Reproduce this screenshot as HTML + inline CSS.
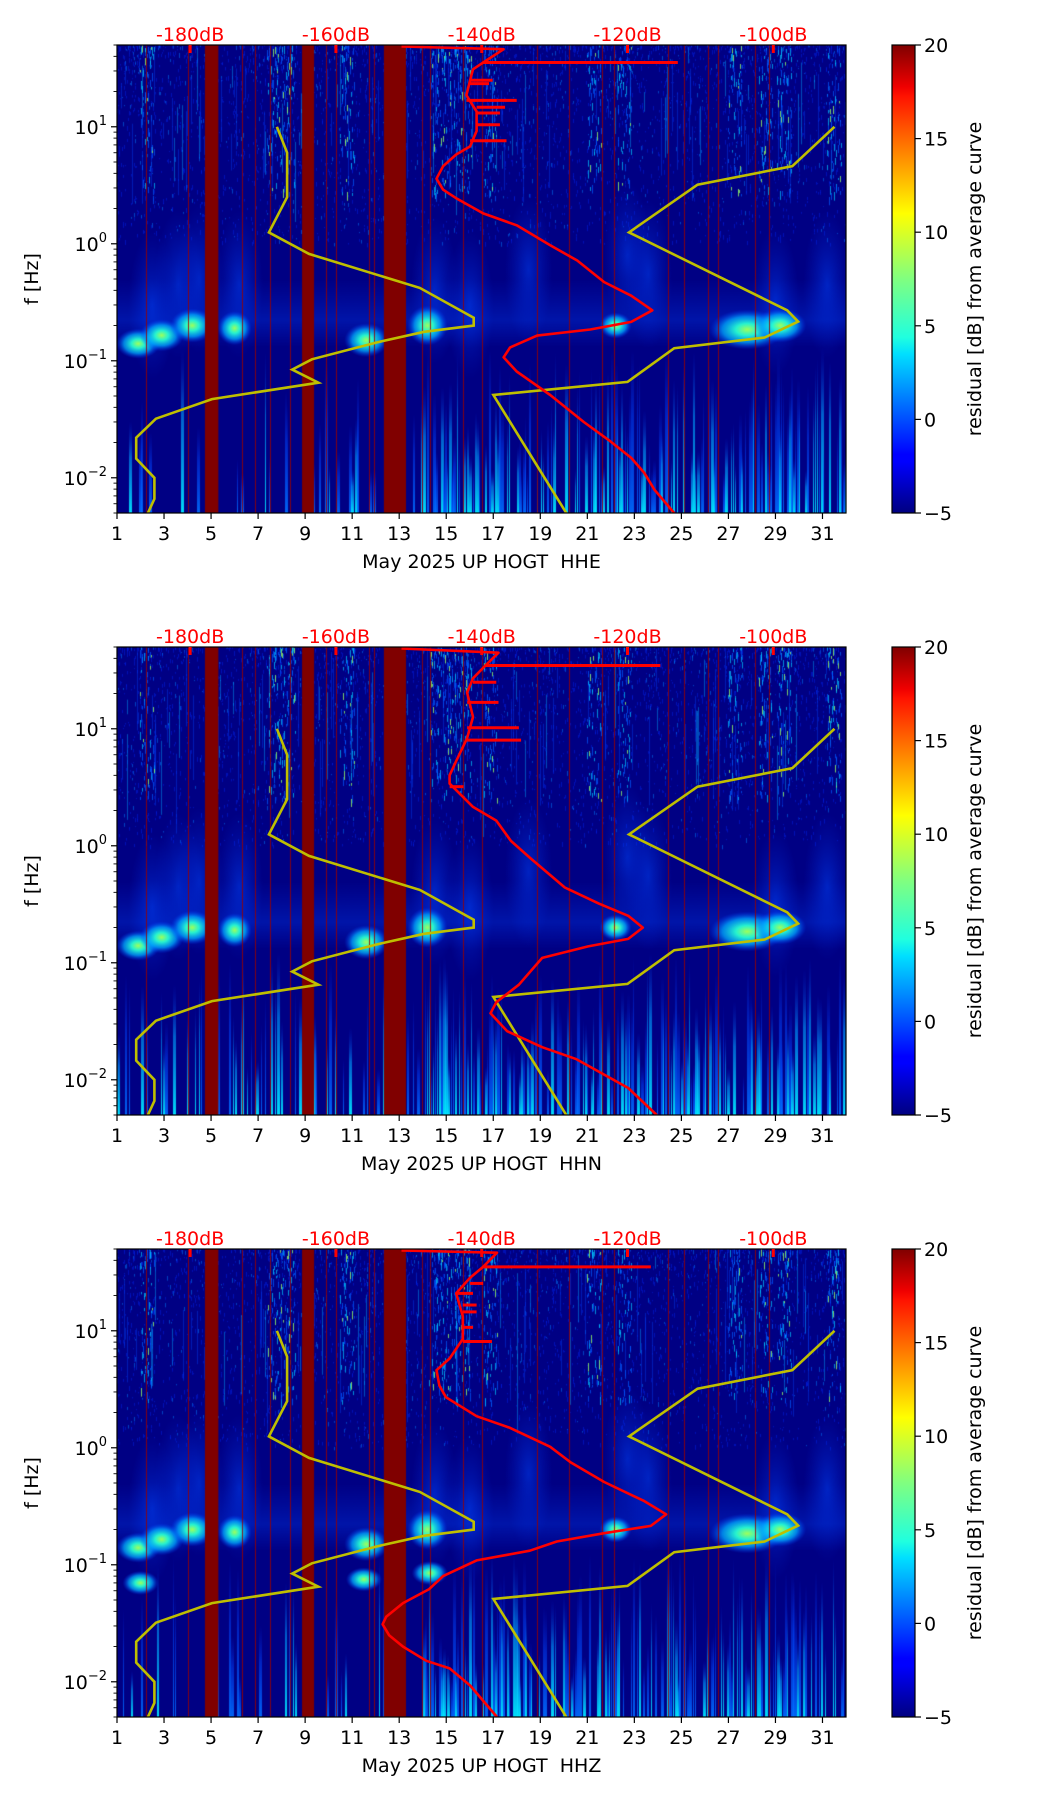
<!DOCTYPE html>
<html><head><meta charset="utf-8">
<style>
body{margin:0;background:#fff;width:1052px;height:1806px;position:relative;overflow:hidden;font-family:"DejaVu Sans","Liberation Sans",sans-serif}
canvas{position:absolute}
svg{position:absolute;left:0;top:0}
text{white-space:pre}
</style></head>
<body>
<div id="wrap"></div>
<svg id="fig" width="1052" height="1806"></svg>
<script>
// ---- data ----
const panelLabels = ["May 2025 UP HOGT  HHE","May 2025 UP HOGT  HHN","May 2025 UP HOGT  HHZ"];
const dayTicks = [1,3,5,7,9,11,13,15,17,19,21,23,25,27,29,31];
const dbTicks = [-180,-160,-140,-120,-100];
const cbTicks = [-5,0,5,10,15,20];
const yDecades = [-2,-1,0,1];
const nlnmF = [10,6.0,2.5,1.25,0.82,0.42,0.233,0.2,0.177,0.143,0.103,0.084,0.065,0.047,0.032,0.022,0.0146,0.01,0.0066,0.005];
const nlnmDb = [-168.1,-166.7,-166.7,-169.2,-163.7,-148.5,-141.1,-141.1,-147.9,-154.5,-163.3,-166.0,-162.4,-177.0,-184.7,-187.4,-187.4,-184.9,-184.9,-185.8];
const nhnmF = [0.005,0.051,0.066,0.128,0.158,0.216,0.27,1.25,3.2,4.6,10];
const nhnmDb = [-128.4,-138.4,-120.0,-113.6,-101.2,-96.6,-98.1,-119.8,-110.4,-97.4,-91.6];
const psd1F = [50,46,35.4,31,25,18.6,13.5,9.2,6.8,5.8,4.6,3.6,2.9,2.45,1.82,1.44,0.97,0.72,0.47,0.36,0.27,0.215,0.185,0.164,0.13,0.107,0.081,0.051,0.030,0.0204,0.0148,0.011,0.0079,0.005];
const psd1Db = [-151,-137.0,-139.8,-141.2,-141.6,-142.1,-140.7,-140.7,-141.6,-143.5,-145.3,-146.2,-145.3,-143.5,-139.8,-135.2,-130.6,-126.9,-123.2,-119.5,-116.6,-119.5,-125.1,-132.4,-136.1,-137.0,-135.2,-130.6,-126.0,-122.3,-119.5,-117.7,-116.3,-113.6];
const psd2F = [50,44.7,34.7,27,20.4,12.6,8.3,5.3,4.0,3.4,2.15,1.64,1.10,0.78,0.44,0.32,0.252,0.2,0.16,0.138,0.11,0.065,0.046,0.037,0.026,0.019,0.015,0.0085,0.005];
const psd2Db = [-151,-137.7,-139.5,-141.2,-142.0,-141.2,-142.0,-143.5,-144.4,-144.4,-141.2,-138.0,-136.0,-133.3,-128.6,-123.9,-119.9,-117.9,-119.9,-125.4,-131.7,-134.9,-138.0,-138.8,-136.5,-131.7,-127.0,-119.9,-116.0];
const psd3F = [50,46.5,35.2,28.4,20.9,13.3,8.5,5.8,4.6,3.4,2.7,1.86,1.48,1.02,0.75,0.51,0.35,0.27,0.215,0.186,0.158,0.132,0.109,0.080,0.062,0.047,0.036,0.031,0.025,0.020,0.0151,0.0130,0.0093,0.005];
const psd3Db = [-151,-137.9,-139.8,-141.6,-143.5,-142.6,-142.6,-144.4,-146.2,-145.8,-144.9,-140.7,-136.1,-130.6,-127.8,-123.2,-117.7,-114.7,-116.8,-123.2,-129.7,-133.4,-140.7,-145.3,-147.2,-150.8,-153.1,-153.6,-152.7,-150.8,-147.6,-144.4,-141.6,-137.9];
const spike1F = [35.4,25,23.4,16.8,14.7,13.1,10.4,7.6];
const spike1Db = [-113.1,-138.5,-139,-135.2,-136.8,-137.5,-137.5,-136.6];
const spike2F = [34.7,25,16.8,10.2,8.0,3.2];
const spike2Db = [-115.5,-138,-137.7,-134.9,-134.6,-142.5];
const spike3F = [35.2,25.4,20.9,16.6,14.5,10.7,8.1];
const spike3Db = [-116.8,-139.8,-141.2,-140.7,-140.7,-141.2,-138.6];
const bandStart = [4.74,8.87,12.35];
const bandEnd = [5.31,9.38,13.29];
const thinLineDays = [2.25,4.02,6.3,6.87,7.5,8.36,9.87,10.3,11.72,11.92,13.95,14.3,15.71,16.51,18.85,20.22,21.62,22.13,24.41,25.12,26.12,26.55,28.12,28.74];
const blobDay = [1.9,2.9,4.2,6.0,11.6,14.2,22.2,27.8,29.2];
const blobF = [0.14,0.165,0.2,0.19,0.15,0.2,0.2,0.185,0.2];
const blob3Day = [2.0,11.5,14.3];
const blob3F = [0.07,0.075,0.085];
const hotDays = [2.3,7.7,8.3,10.8,14.6,15.2,15.8,16.9,21.3,22.6,27.3,28.6,29.4,31.5];

const psdF=[psd1F,psd2F,psd3F], psdDb=[psd1Db,psd2Db,psd3Db];
const spF=[spike1F,spike2F,spike3F], spDb=[spike1Db,spike2Db,spike3Db];

const L=117, W=729, H=468, TOPS=[45,647,1249];
const FMAX=50, FMIN=0.005, DEC=H/Math.log10(FMAX/FMIN);
const xDay=d=>L+(d-1)*W/31;
const xDb=db=>xDay(4.11+(db+180)/3.226);
const yF=(top,f)=>top+(Math.log10(FMAX)-Math.log10(f))*DEC;
const NS="http://www.w3.org/2000/svg";
const svg=document.getElementById('fig');
function el(tag,attrs,parent,text){const e=document.createElementNS(NS,tag);for(const k in attrs)e.setAttribute(k,attrs[k]);if(text!==undefined)e.textContent=text;(parent||svg).appendChild(e);return e;}

let seed=12345;
function rnd(){seed=(seed*1103515245+12345)%2147483648;return seed/2147483648;}

function drawSpec(p){
  const top=TOPS[p];
  const c=document.createElement('canvas');
  c.width=W;c.height=H;c.style.left=L+'px';c.style.top=top+'px';
  
  
  document.body.insertBefore(c,svg);
  const g=c.getContext('2d');
  const yf=f=>yF(0,f), xd=d=>(d-1)*W/31;
  g.fillStyle='rgb(0,0,132)';g.fillRect(0,0,W,H);
  // upper speckle, fading with decreasing freq
  const y3=yf(1.0);
  for(let i=0;i<3500;i++){const x=rnd()*W,y=Math.pow(rnd(),1.6)*y3;g.fillStyle=rnd()<0.85?'rgba(0,30,220,0.55)':'rgba(0,130,255,0.5)';g.fillRect(x|0,y|0,1,1+rnd()*4);}
  // thin vertical streaks at high freq
  for(let i=0;i<140;i++){const x=rnd()*W,y0=rnd()*yf(6),h=10+rnd()*80;g.fillStyle=rnd()<0.7?'rgba(0,60,240,0.45)':'rgba(0,170,255,0.45)';g.fillRect(x|0,y0,1,h);}
  hotDays.forEach(d=>{for(let i=0;i<70;i++){const x=xd(d)+(rnd()-0.5)*14,y=Math.pow(rnd(),1.3)*yf(2.5);const r=rnd();g.fillStyle=r<0.55?'rgba(0,90,255,0.7)':r<0.9?'rgba(0,200,255,0.7)':'rgba(150,255,100,0.8)';g.fillRect(x|0,y|0,1,2+rnd()*7);}});
  // plumes
  const plumes=[[3.6,0.45],[4.5,0.5],[6.2,0.45],[14.5,0.4],[18.5,0.6],[22.7,0.8],[23.6,0.55],[29,0.32],[31.2,0.45],[16.0,0.3],[2.5,0.3]];
  plumes.forEach(([d,f])=>{const gr=g.createRadialGradient(0,0,0,0,0,1);gr.addColorStop(0,'rgba(0,70,255,0.5)');gr.addColorStop(1,'rgba(0,40,220,0)');g.save();g.translate(xd(d),yf(f));g.scale(24,75);g.fillStyle=gr;g.beginPath();g.arc(0,0,1,0,7);g.fill();g.restore();});
  {const gr=g.createLinearGradient(0,yf(0.5),0,yf(0.13));gr.addColorStop(0,'rgba(0,60,255,0)');gr.addColorStop(0.6,'rgba(0,70,255,0.3)');gr.addColorStop(1,'rgba(0,60,255,0)');g.fillStyle=gr;g.fillRect(0,yf(0.5),W,yf(0.13)-yf(0.5));}
  // lower streaks
  const y01=yf(0.11);
  for(let x=0;x<W;x+=2){const d=1+x*31/W;let prob=d>13.7?0.6:(p===1?0.35:0.22);if(rnd()>prob)continue;
    const h=(H-y01)*(0.25+rnd()*0.8);const gr=g.createLinearGradient(0,H,0,H-h);const cyan=rnd()<0.45;
    gr.addColorStop(0,cyan?'rgba(0,230,255,0.95)':'rgba(0,110,255,0.9)');gr.addColorStop(0.6,cyan?'rgba(0,160,255,0.6)':'rgba(0,70,255,0.5)');gr.addColorStop(1,'rgba(0,40,230,0)');g.fillStyle=gr;g.fillRect(x,H-h,1+(rnd()*3|0),h);}
  // blobs
  const bd=blobDay.slice(), bf=blobF.slice(); const sx=[22,22,22,17,22,20,16,38,26], sy=[15,16,17,17,17,20,13,20,17];
  if(p===2){blob3Day.forEach((d,i)=>{bd.push(d);bf.push(blob3F[i]);sx.push(18);sy.push(12);});}
  bd.forEach((d,i)=>{const gr=g.createRadialGradient(0,0,0,0,0,1);gr.addColorStop(0,'rgba(160,255,90,1)');gr.addColorStop(0.3,'rgba(40,255,210,0.95)');gr.addColorStop(0.65,'rgba(0,170,255,0.75)');gr.addColorStop(1,'rgba(0,60,255,0)');g.save();g.translate(xd(d),yf(bf[i]));g.scale(sx[i],sy[i]);g.fillStyle=gr;g.beginPath();g.arc(0,0,1,0,7);g.fill();g.restore();});
  g.fillStyle='rgb(128,0,0)';
  bandStart.forEach((s,i)=>g.fillRect(xd(s),0,xd(bandEnd[i])-xd(s),H));
  g.fillStyle='rgba(150,0,0,0.85)';
  thinLineDays.forEach(d=>g.fillRect(Math.round(xd(d)),0,1,H));
}

function poly(xs,ys){return xs.map((x,i)=>x.toFixed(1)+','+ys[i].toFixed(1)).join(' ');}
function interpDb(F,D,f){const lf=Math.log10(f);let best=0,bd=1e9;for(let i=0;i<F.length;i++){const dd=Math.abs(Math.log10(F[i])-lf);if(dd<bd){bd=dd;best=i;}}return D[best];}

function drawPanel(p){
  const top=TOPS[p];
  drawSpec(p);
  const g=el('g',{});
  const cid='clip'+p;
  const cp=el('clipPath',{id:cid},g);el('rect',{x:L,y:top,width:W,height:H},cp);
  const nl=el('polyline',{points:poly(nlnmF.map((f,i)=>xDb(nlnmDb[i])),nlnmF.map(f=>yF(top,f))),fill:'none',stroke:'#bfbf00','stroke-width':2.6,'clip-path':`url(#${cid})`},g);
  
  const nh=el('polyline',{points:poly(nhnmF.map((f,i)=>xDb(nhnmDb[i])),nhnmF.map(f=>yF(top,f))),fill:'none',stroke:'#bfbf00','stroke-width':2.6,'clip-path':`url(#${cid})`},g);
  
  spF[p].forEach((f,i)=>{const base=interpDb(psdF[p],psdDb[p],f);const s=el('line',{x1:xDb(base),x2:xDb(spDb[p][i]),y1:yF(top,f),y2:yF(top,f),stroke:'#ff0000','stroke-width':3},g);
    });
  const pl=el('polyline',{points:poly(psdF[p].map((f,i)=>xDb(psdDb[p][i])),psdF[p].map(f=>Math.max(yF(top,f),top+1.5))),fill:'none',stroke:'#ff0000','stroke-width':2.6,'stroke-linejoin':'round','clip-path':`url(#${cid})`},g);
  
  el('rect',{x:L,y:top,width:W,height:H,fill:'none',stroke:'#000','stroke-width':1.2,},g);
  dayTicks.forEach(d=>{const x=xDay(d);el('line',{x1:x,x2:x,y1:top+H,y2:top+H+6,stroke:'#000','stroke-width':1.2},g);
    const t=el('text',{x:x,y:top+H+27,'font-size':19,'text-anchor':'middle'},g,String(d));});
  const xl=el('text',{x:L+W/2,y:top+H+55,'font-size':19,'text-anchor':'middle','xml:space':'preserve'},g,panelLabels[p]);
  
  dbTicks.forEach(db=>{const x=xDb(db);el('line',{x1:x,x2:x,y1:top,y2:top+8,stroke:'#ff0000','stroke-width':3},g);
    const t=el('text',{x:x,y:top-4,'font-size':19,fill:'#ff0000','text-anchor':'middle'},g,db+'dB');});
  yDecades.forEach(e=>{const y=yF(top,Math.pow(10,e));el('line',{x1:L-6,x2:L,y1:y,y2:y,stroke:'#000','stroke-width':1.2},g);
    const t=el('text',{x:L-10,y:y+7,'font-size':19,'text-anchor':'end'},g);
    el('tspan',{},t,'10');el('tspan',{dy:-9,'font-size':13},t,e<0?'\u2212'+(-e):String(e));});
  for(let e=-3;e<=1;e++)for(let m=2;m<=9;m++){const f=m*Math.pow(10,e);if(f<FMIN||f>FMAX)continue;const y=yF(top,f);el('line',{x1:L-3.5,x2:L,y1:y,y2:y,stroke:'#000','stroke-width':0.9},g);}
  const yl=el('text',{x:0,y:0,'font-size':19,'text-anchor':'middle',transform:`translate(38,${top+H/2}) rotate(-90)`},g,'f [Hz]');
  
  const gid='jet'+p;const defs=el('defs',{},g);const lg=el('linearGradient',{id:gid,x1:0,y1:1,x2:0,y2:0},defs);
  [[0,'#000080'],[0.11,'#0000ff'],[0.125,'#0000ff'],[0.34,'#00dfff'],[0.375,'#20ffdf'],[0.5,'#80ff80'],[0.64,'#ffff00'],[0.66,'#ffec00'],[0.89,'#ff1300'],[0.91,'#f00000'],[1,'#800000']].forEach(([o,c])=>el('stop',{offset:o,'stop-color':c},lg));
  el('rect',{x:892,y:top,width:23,height:H,fill:`url(#${gid})`,stroke:'#000','stroke-width':1.2,},g);
  cbTicks.forEach(v=>{const y=top+(20-v)/25*H;el('line',{x1:915,x2:921,y1:y,y2:y,stroke:'#000','stroke-width':1.2},g);
    const t=el('text',{x:924,y:y+7,'font-size':19},g,v<0?'\u2212'+(-v):String(v));});
  const cl=el('text',{x:0,y:0,'font-size':19,'text-anchor':'middle',transform:`translate(981,${top+H/2}) rotate(-90)`},g,'residual [dB] from average curve');
  
}
[0,1,2].forEach(drawPanel);
</script>
</body></html>
